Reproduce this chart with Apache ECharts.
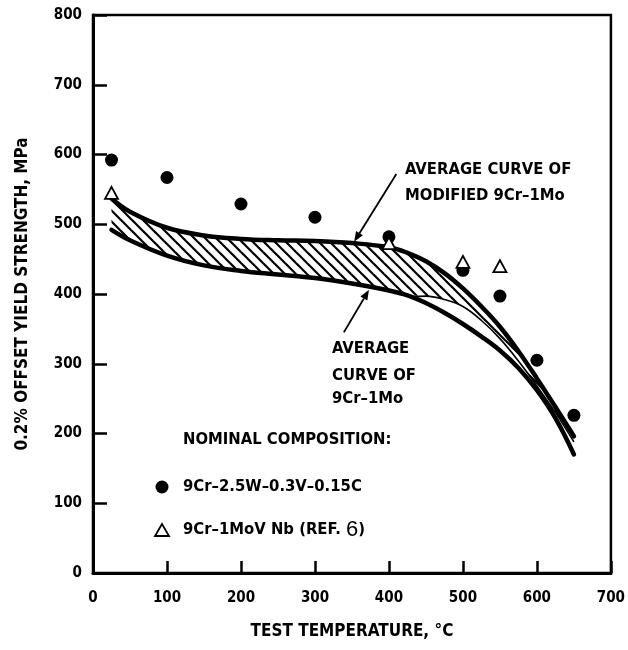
<!DOCTYPE html>
<html><head><meta charset="utf-8">
<script src="https://cdn.jsdelivr.net/npm/echarts@6/dist/echarts.min.js"></script>
<style>html,body{margin:0;padding:0;background:#fff}#c{width:628px;height:650px}</style>
</head><body><div id="c"></div>
<script>
// ---- data ----
const curveTemps   = [25, 50, 100, 150, 200, 250, 300, 350, 400, 425, 450, 475, 500, 525, 550, 575, 600, 625, 650];
const modifiedAvg  = [537, 518, 495, 484, 479, 477, 476, 473, 467, 459, 447, 430, 408, 382, 353, 318, 279, 238, 196];
const plainAvg     = [492, 477, 455, 441, 433, 428, 423, 415, 405, 398, 387, 373, 357, 339, 319, 294, 262, 222, 170];
const bandTemps    = [25, 50, 100, 150, 200, 250, 300, 350, 400, 425, 450, 475, 500, 525, 550, 575, 600, 625, 650];
const bandLower    = [492, 477, 455, 441, 433, 428, 423, 415, 405, 398, 397, 392, 382, 362, 336, 304, 268, 230, 188];
const thinTemps    = [430, 450, 475, 500, 525, 550, 575, 600, 625, 650];
const thinVals     = [396, 397, 392, 382, 362, 336, 304, 268, 230, 188];
const circleTemps  = [25, 100, 200, 300, 400, 500, 550, 600, 650];
const circleVals   = [592, 567, 529, 510, 482, 434, 397, 305, 226];
const triTemps     = [25, 400, 500, 550];
const triVals      = [545, 473, 446, 440];
const xTickLabels  = ['0','100','200','300','400','500','600','700'];
const yTickLabels  = ['0','100','200','300','400','500','600','700','800'];
const legendTitle  = 'NOMINAL COMPOSITION:';
const legendCircle = '9Cr\u20132.5W\u20130.3V\u20130.15C';
const legendTri    = '9Cr\u20131MoV Nb (REF. ';
const annoUpper    = ['AVERAGE CURVE OF', 'MODIFIED 9Cr\u20131Mo'];
const annoLower    = ['AVERAGE', 'CURVE OF', '9Cr\u20131Mo'];
const arrowUpper   = [[410, 572], [353, 475]];
const arrowLower   = [[339, 345], [373, 406]];

const FONT = "'DejaVu Sans Condensed', 'DejaVu Sans', sans-serif";
const zip = (a, b) => a.map((v, i) => [v, b[i]]);
const SM = 0.4;

// hatch pattern
const pc = document.createElement('canvas');
const T = 11; pc.width = T; pc.height = T;
const g = pc.getContext('2d');
g.strokeStyle = '#000'; g.lineWidth = 2.2;
[-T, 0, T].forEach(o => { g.beginPath(); g.moveTo(-2 + o, -2); g.lineTo(T + 2 + o, T + 2); g.stroke(); });

// trace the same bezier path the line series draws (pixel space) so the fill edges match the curves
function smoothPts(P, s) {
  const out = [P[0].slice()];
  let cp0 = P[0];
  for (let i = 1; i < P.length; i++) {
    const [px, py] = P[i - 1], [x, y] = P[i];
    let cp1, next = null;
    if (i === P.length - 1) { cp1 = [x, y]; }
    else {
      const [nx, ny] = P[i + 1];
      const lp = Math.hypot(x - px, y - py), ln = Math.hypot(nx - x, ny - y);
      const r = ln / (ln + lp);
      let vx = nx - px, vy = ny - py;
      let ncx = x + vx * s * r, ncy = y + vy * s * r;
      ncx = Math.max(Math.min(ncx, Math.max(nx, x)), Math.min(nx, x));
      ncy = Math.max(Math.min(ncy, Math.max(ny, y)), Math.min(ny, y));
      vx = ncx - x; vy = ncy - y;
      let c1x = x - vx * lp / ln, c1y = y - vy * lp / ln;
      c1x = Math.max(Math.min(c1x, Math.max(px, x)), Math.min(px, x));
      c1y = Math.max(Math.min(c1y, Math.max(py, y)), Math.min(py, y));
      vx = x - c1x; vy = y - c1y;
      next = [x + vx * ln / lp, y + vy * ln / lp];
      cp1 = [c1x, c1y];
    }
    for (let k = 1; k <= 12; k++) {
      const t = k / 12, u = 1 - t;
      out.push([
        u*u*u*px + 3*u*u*t*cp0[0] + 3*u*t*t*cp1[0] + t*t*t*x,
        u*u*u*py + 3*u*u*t*cp0[1] + 3*u*t*t*cp1[1] + t*t*t*y
      ]);
    }
    cp0 = next || [x, y];
  }
  return out;
}

const chart = echarts.init(document.getElementById('c'), null, {renderer: 'canvas'});
const opt = {
  animation: false,
  backgroundColor: '#fff',
  grid: {left: 93, right: 15, top: 15, bottom: 77, show: true, borderColor: '#000', borderWidth: 2.5},
  xAxis: {
    type: 'value', min: 0, max: 700, interval: 100, z: 10,
    name: 'TEST TEMPERATURE, \u00B0C', nameLocation: 'middle', nameGap: 50,
    nameTextStyle: {fontFamily: FONT, fontWeight: 'bold', fontSize: 17, color: '#000'},
    axisLine: {lineStyle: {color: '#000', width: 3}},
    axisTick: {inside: true, length: 12, lineStyle: {color: '#000', width: 2.5}},
    axisLabel: {margin: 18, fontFamily: FONT, fontWeight: 'bold', fontSize: 15, color: '#000',
      formatter: (v) => xTickLabels[Math.round(v / 100)]},
    splitLine: {show: false}
  },
  yAxis: {
    type: 'value', min: 0, max: 800, interval: 100, z: 10,
    name: '0.2% OFFSET YIELD STRENGTH, MPa', nameLocation: 'middle', nameGap: 62,
    nameTextStyle: {fontFamily: FONT, fontWeight: 'bold', fontSize: 17, color: '#000'},
    axisLine: {lineStyle: {color: '#000', width: 3}},
    axisTick: {inside: true, length: 14, lineStyle: {color: '#000', width: 2.5}},
    axisLabel: {margin: 11, fontFamily: FONT, fontWeight: 'bold', fontSize: 15, color: '#000',
      formatter: (v) => yTickLabels[Math.round(v / 100)]},
    splitLine: {show: false}
  },
  series: [
    {type: 'custom', data: [[0, 0]], z: 1, silent: true,
      renderItem: (params, api) => {
        const up = curveTemps.map((t, i) => api.coord([t, modifiedAvg[i]]));
        const lo = bandTemps.map((t, i) => api.coord([t, bandLower[i]]));
        const pts = smoothPts(up, SM).concat(smoothPts(lo, SM).reverse());
        return {type: 'polygon', shape: {points: pts},
          style: {fill: {image: pc, repeat: 'repeat'}, stroke: null}};
      }},
    {type: 'line', data: zip(thinTemps, thinVals), smooth: SM, symbol: 'none',
      lineStyle: {color: '#000', width: 1.6}, z: 2},
    {type: 'line', name: 'Modified 9Cr-1Mo', data: zip(curveTemps, modifiedAvg), smooth: SM, symbol: 'none',
      lineStyle: {color: '#000', width: 4.5, cap: 'round'}, z: 3},
    {type: 'line', name: '9Cr-1Mo', data: zip(curveTemps, plainAvg), smooth: SM, symbol: 'none',
      lineStyle: {color: '#000', width: 4.5, cap: 'round'}, z: 3},
    {type: 'scatter', data: zip(circleTemps, circleVals), symbol: 'circle', symbolSize: 13,
      itemStyle: {color: '#000', opacity: 1}, z: 4},
    {type: 'scatter', data: zip(triTemps, triVals), symbol: 'triangle', symbolSize: [13, 12],
      itemStyle: {color: '#fff', borderColor: '#000', borderWidth: 1.8, opacity: 1}, z: 5}
  ]
};
chart.setOption(opt);

function arrow(a) {
  const p0 = chart.convertToPixel({gridIndex: 0}, a[0]);
  const p1 = chart.convertToPixel({gridIndex: 0}, a[1]);
  const ang = Math.atan2(p1[1] - p0[1], p1[0] - p0[0]);
  const L = 10, W = 4;
  const bx = p1[0] - L * Math.cos(ang), by = p1[1] - L * Math.sin(ang);
  const nx = -Math.sin(ang), ny = Math.cos(ang);
  return [
    {type: 'line', shape: {x1: p0[0], y1: p0[1], x2: bx, y2: by}, style: {stroke: '#000', lineWidth: 1.8}, z: 10},
    {type: 'polygon', shape: {points: [[p1[0], p1[1]], [bx + nx * W, by + ny * W], [bx - nx * W, by - ny * W]]},
      style: {fill: '#000'}, z: 10}
  ];
}
function txt(s, x, y, size) {
  return {type: 'text', left: x, top: y, z: 10,
    style: {text: s, fill: '#000', font: 'bold ' + size + 'px ' + FONT}};
}
const graphics = [].concat(
  arrow(arrowUpper), arrow(arrowLower),
  [txt(annoUpper[0], 405, 161, 16.5), txt(annoUpper[1], 405, 187, 16.5),
   txt(annoLower[0], 332, 340, 16.5), txt(annoLower[1], 332, 367, 16.5), txt(annoLower[2], 332, 390, 16.5),
   txt(legendTitle, 183, 431, 16.5),
   txt(legendCircle, 183, 478, 16.5),
   {type: 'text', left: 183, top: 519, z: 10,
     style: {text: '{b|' + legendTri + '}{n|6}{b|)}', fill: '#000',
       rich: {b: {font: 'bold 16.5px ' + FONT, fill: '#000'}, n: {font: '22px "Liberation Sans", sans-serif', fill: '#000'}}}},
   {type: 'circle', shape: {cx: 162, cy: 487, r: 6.5}, style: {fill: '#000'}, z: 10},
   {type: 'polygon', shape: {points: [[162, 524], [155, 536], [169, 536]]}, style: {fill: '#fff', stroke: '#000', lineWidth: 1.8}, z: 10}
  ]
);
chart.setOption({graphic: graphics});
</script>
</body></html>
